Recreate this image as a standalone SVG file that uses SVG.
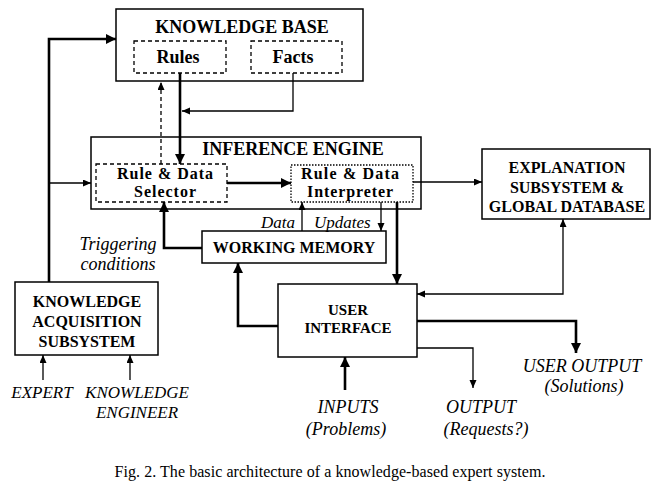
<svg xmlns="http://www.w3.org/2000/svg" width="660" height="487" viewBox="0 0 660 487">
<style>
.box{fill:#fff;stroke:#000;stroke-width:1.5}
.dash{fill:none;stroke:#000;stroke-width:1.3;stroke-dasharray:4 3}
.dot{fill:none;stroke:#000;stroke-width:1.3;stroke-dasharray:1.5 1.5}
.b{font-family:"Liberation Serif","Times New Roman",serif;font-weight:bold;text-anchor:middle;fill:#000}
.i{font-family:"Liberation Serif","Times New Roman",serif;font-style:italic;font-size:18px;text-anchor:middle;fill:#000}
.thick{fill:none;stroke:#000;stroke-width:2.6}
.thin{fill:none;stroke:#000;stroke-width:1.3}
</style>
<defs>
<marker id="ah" markerUnits="userSpaceOnUse" markerWidth="11" markerHeight="11" refX="10" refY="5" orient="auto-start-reverse"><path d="M0,0 L10,5 L0,10 z" fill="#000"/></marker>
<marker id="at" markerUnits="userSpaceOnUse" markerWidth="9" markerHeight="8" refX="8" refY="3.5" orient="auto-start-reverse"><path d="M0,0 L8,3.5 L0,7 z" fill="#000"/></marker>
</defs>
<rect width="660" height="487" fill="#fff"/>

<g id="knowledge-base">
<rect class="box" x="116" y="9" width="247" height="72"/>
<text class="b" x="242" y="33" font-size="18">KNOWLEDGE BASE</text>
</g>
<g id="rules">
<rect class="dash" x="134" y="41" width="92" height="32"/>
<text class="b" x="178" y="63" font-size="18">Rules</text>
</g>
<g id="facts">
<rect class="dash" x="251" y="41" width="91" height="32"/>
<text class="b" x="293" y="63" font-size="18">Facts</text>
</g>
<g id="inference-engine">
<rect class="box" x="91" y="137" width="330" height="72"/>
<text class="b" x="293" y="155" font-size="18">INFERENCE ENGINE</text>
</g>
<g id="selector">
<rect class="dash" x="96" y="164" width="131" height="38"/>
<text class="b" x="165" y="179" font-size="16" textLength="96">Rule &amp; Data</text>
<text class="b" x="165" y="197" font-size="16" textLength="62">Selector</text>
</g>
<g id="interpreter">
<rect class="dot" x="291" y="165" width="122" height="37"/>
<text class="b" x="350" y="179" font-size="16" textLength="98">Rule &amp; Data</text>
<text class="b" x="350" y="197" font-size="16" textLength="86">Interpreter</text>
</g>
<g id="explanation">
<rect class="box" x="482" y="149" width="168" height="70"/>
<text class="b" x="567" y="173" font-size="16">EXPLANATION</text>
<text class="b" x="567" y="193" font-size="16">SUBSYSTEM &amp;</text>
<text class="b" x="567" y="212" font-size="16">GLOBAL DATABASE</text>
</g>
<g id="working-memory">
<rect class="box" x="202" y="231" width="184" height="32"/>
<text class="b" x="294" y="253" font-size="16">WORKING MEMORY</text>
</g>
<g id="knowledge-acquisition">
<rect class="box" x="15" y="282" width="143" height="73"/>
<text class="b" x="87" y="307" font-size="16">KNOWLEDGE</text>
<text class="b" x="87" y="327" font-size="16">ACQUISITION</text>
<text class="b" x="87" y="347" font-size="16">SUBSYSTEM</text>
</g>
<g id="user-interface">
<rect class="box" x="278" y="284" width="139" height="73"/>
<text class="b" x="348" y="315" font-size="15">USER</text>
<text class="b" x="348" y="333" font-size="15">INTERFACE</text>
</g>

<g id="connectors">
<path class="thick" d="M49,282 V39 H116" marker-end="url(#ah)"/>
<path class="thin" d="M49,183 H91" marker-end="url(#at)"/>
<path class="thick" d="M180,73 V164" marker-end="url(#ah)"/>
<path class="thin" d="M293,73 V111 H182" marker-end="url(#at)"/>
<path class="thin" d="M161,164 V82" stroke-dasharray="4 3" marker-end="url(#at)"/>
<path class="thick" d="M227,183 H291" marker-end="url(#ah)"/>
<path class="thin" d="M413,182 H482" marker-end="url(#at)"/>
<path class="thin" d="M302,231 V202" marker-end="url(#at)"/>
<path class="thin" d="M381,202 V231" marker-end="url(#at)"/>
<path class="thick" d="M397,202 V284" marker-end="url(#ah)"/>
<path class="thick" d="M202,248 H164 V202" marker-end="url(#ah)"/>
<path class="thick" d="M278,326 H238 V263" marker-end="url(#ah)"/>
<path class="thin" d="M417,294 H563 V219" marker-start="url(#at)" marker-end="url(#at)"/>
<path class="thick" d="M417,321 H576 V353" marker-end="url(#ah)"/>
<path class="thin" d="M417,348 H473 V388" marker-end="url(#at)"/>
<path class="thick" d="M345,390 V357" marker-end="url(#ah)"/>
<path class="thin" d="M43,380 V355" marker-end="url(#at)"/>
<path class="thin" d="M130,380 V355" marker-end="url(#at)"/>
</g>

<g id="labels">
<text class="i" x="295" y="228" style="text-anchor:end;font-size:17px">Data</text>
<text class="i" x="314" y="228" style="text-anchor:start;font-size:17px">Updates</text>
<text class="i" x="118" y="250">Triggering</text>
<text class="i" x="118" y="270">conditions</text>
<text class="i" x="42" y="398" style="font-size:17px">EXPERT</text>
<text class="i" x="137" y="398" style="font-size:17px">KNOWLEDGE</text>
<text class="i" x="137" y="418" style="font-size:17px">ENGINEER</text>
<text class="i" x="348" y="413">INPUTS</text>
<text class="i" x="346" y="435">(Problems)</text>
<text class="i" x="481" y="413">OUTPUT</text>
<text class="i" x="486" y="435">(Requests?)</text>
<text class="i" x="582" y="372">USER OUTPUT</text>
<text class="i" x="584" y="392">(Solutions)</text>
</g>

<text x="330" y="477" font-family="'Liberation Serif','Times New Roman',serif" font-size="16" text-anchor="middle" textLength="431" fill="#000">Fig. 2. The basic architecture of a knowledge-based expert system.</text>
</svg>
